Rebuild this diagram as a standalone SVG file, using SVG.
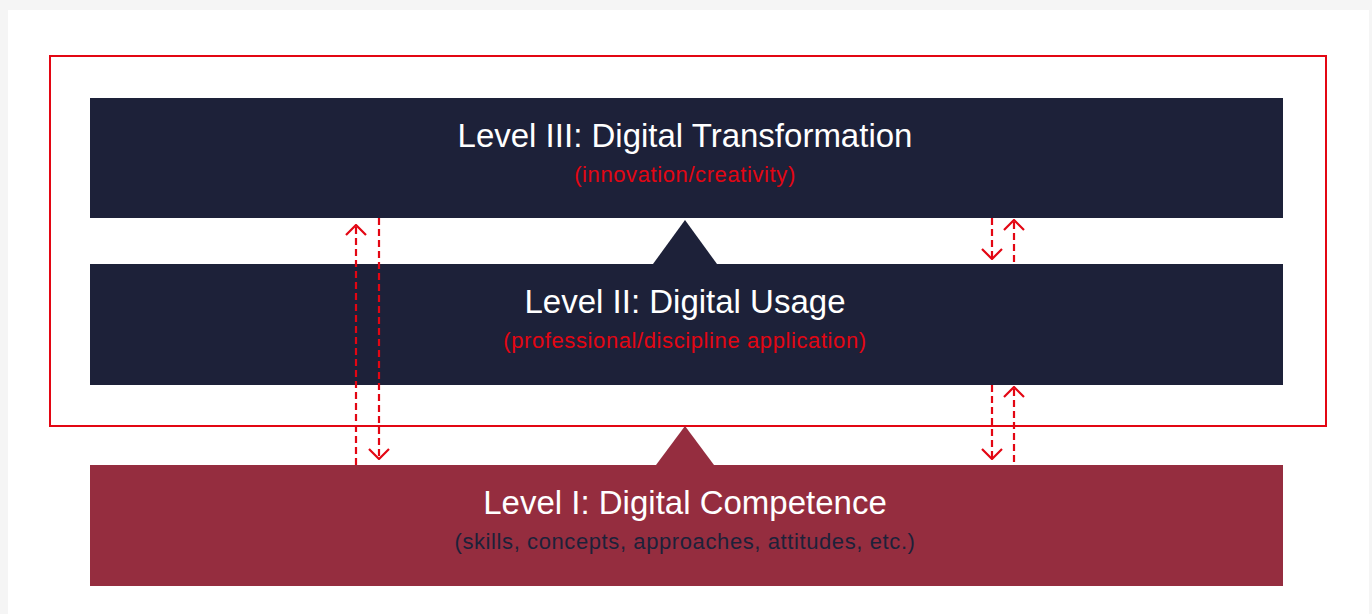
<svg xmlns="http://www.w3.org/2000/svg" width="1372" height="614" viewBox="0 0 1372 614">
<defs>
<style>
.title{font-family:"Liberation Sans",Arial,sans-serif;font-size:33px;fill:#ffffff;text-anchor:middle}
.sub{font-family:"Liberation Sans",Arial,sans-serif;font-size:22px;letter-spacing:0.6px;text-anchor:middle}
.navy{fill:#1d2139}
.maroon{fill:#952d3f}
.dash{stroke:#e30613;stroke-width:2.2;stroke-dasharray:7 4;fill:none}
</style>
<marker id="ah" viewBox="0 0 12 22" refX="11" refY="11" markerWidth="12" markerHeight="22" markerUnits="userSpaceOnUse" orient="auto">
<path d="M1 1 L11 11 L1 21" fill="none" stroke="#e30613" stroke-width="2.2"/>
</marker>
</defs>
<rect width="1372" height="614" fill="#f5f5f5"/>
<rect x="8" y="10" width="1361" height="604" fill="#ffffff"/>
<rect id="frame" x="50" y="56" width="1276" height="370" fill="none" stroke="#e30613" stroke-width="2"/>
<g id="level3">
<rect class="navy" x="90" y="98" width="1193" height="120"/>
<text class="title" x="685" y="147">Level III: Digital Transformation</text>
<text class="sub" x="685" y="182" fill="#e30613">(innovation/creativity)</text>
</g>
<g id="level2">
<rect class="navy" x="90" y="264" width="1193" height="121"/>
<polygon class="navy" points="685,220 717,264 653,264"/>
<text class="title" x="685" y="313">Level II: Digital Usage</text>
<text class="sub" x="685" y="348" fill="#e30613">(professional/discipline application)</text>
</g>
<g id="level1">
<rect class="maroon" x="90" y="465" width="1193" height="121"/>
<polygon class="maroon" points="685,426 714,465 656,465"/>
<text class="title" x="685" y="514">Level I: Digital Competence</text>
<text class="sub" x="685" y="549" fill="#1d2139">(skills, concepts, approaches, attitudes, etc.)</text>
</g>
<g id="connectors">
<line class="dash" x1="356" y1="465" x2="356" y2="225" marker-end="url(#ah)"/>
<line class="dash" x1="379" y1="218" x2="379" y2="459" marker-end="url(#ah)"/>
<line class="dash" x1="992" y1="218" x2="992" y2="259" marker-end="url(#ah)"/>
<line class="dash" x1="1014" y1="262" x2="1014" y2="220" marker-end="url(#ah)"/>
<line class="dash" x1="992" y1="385" x2="992" y2="459" marker-end="url(#ah)"/>
<line class="dash" x1="1014" y1="462" x2="1014" y2="387" marker-end="url(#ah)"/>
</g>
</svg>
